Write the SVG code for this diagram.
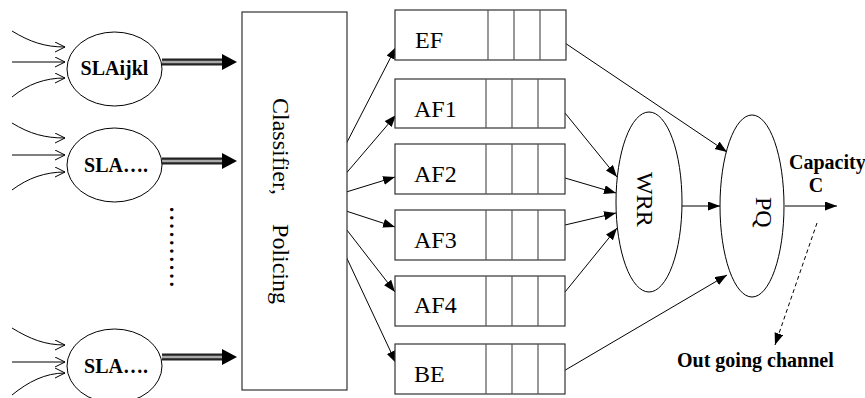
<svg xmlns="http://www.w3.org/2000/svg" width="865" height="398" viewBox="0 0 865 398">
<defs>
<style>
.ln{fill:none;stroke:#000;stroke-width:1}
.in{fill:none;stroke:#000;stroke-width:1;marker-end:url(#open)}
.ar{fill:none;stroke:#000;stroke-width:1;marker-end:url(#fill)}
.box{fill:#fff;stroke:#333;stroke-width:1.2}
.div{stroke:#555;stroke-width:1.2}
.ell{fill:#fff;stroke:#000;stroke-width:1}
.bold{font-family:"Liberation Serif","Times New Roman",serif;font-weight:bold;font-size:20px;fill:#000}
.reg{font-family:"Liberation Serif","Times New Roman",serif;font-size:24px;fill:#000}
.dbo{stroke:#222;stroke-width:7;fill:none}
.dbi{stroke:#aaa;stroke-width:2.5;fill:none}
</style>
<marker id="open" markerWidth="12" markerHeight="12" refX="10" refY="5" orient="auto" markerUnits="userSpaceOnUse">
<path d="M0,0 L10,5 L0,10" fill="none" stroke="#000" stroke-width="1"/>
</marker>
<marker id="fill" markerWidth="14" markerHeight="10" refX="12" refY="4.5" orient="auto" markerUnits="userSpaceOnUse">
<path d="M0,0 L12,4.5 L0,9 Z" fill="#000"/>
</marker>
</defs>
<rect width="865" height="398" fill="#fff"/>

<g id="connectors">
<!-- inputs SLA1 -->
<path class="in" d="M12,31 C30,42 45,47 65,47"/>
<path class="in" d="M12,62 L65,62"/>
<path class="in" d="M12,97 C28,84 45,78 65,78"/>
<!-- inputs SLA2 -->
<path class="in" d="M12,123 C30,134 45,138 65,138"/>
<path class="in" d="M12,155 L65,155"/>
<path class="in" d="M12,190 C28,178 45,172 65,172"/>
<!-- inputs SLA3 -->
<path class="in" d="M12,328 C30,339 45,345 65,345"/>
<path class="in" d="M12,362 L65,362"/>
<path class="in" d="M12,395 C28,382 45,373 65,373"/>
<!-- double arrows -->
<g id="dbl1"><path class="dbo" d="M162,62 H223"/><path class="dbi" d="M162,62 H223"/><path d="M222,54 L237,62 L222,70 Z" fill="#000"/></g>
<g id="dbl2"><path class="dbo" d="M162,161 H223"/><path class="dbi" d="M162,161 H223"/><path d="M222,153 L237,161 L222,169 Z" fill="#000"/></g>
<g id="dbl3"><path class="dbo" d="M162,357 H223"/><path class="dbi" d="M162,357 H223"/><path d="M222,349 L237,357 L222,365 Z" fill="#000"/></g>
<!-- classifier to queues -->
<path class="ar" d="M343,150 L396,47"/>
<path class="ar" d="M343,177 L396,115"/>
<path class="ar" d="M343,193 L395,177"/>
<path class="ar" d="M343,210 L395,227"/>
<path class="ar" d="M343,225 L395,292"/>
<path class="ar" d="M343,250 L396,363"/>
<!-- queues to schedulers -->
<path class="ar" d="M562,41 L727,152"/>
<path class="ar" d="M565,113 L617,177"/>
<path class="ar" d="M565,178 L616,193"/>
<path class="ar" d="M565,225 L616,213"/>
<path class="ar" d="M565,292 L617,228"/>
<path class="ar" d="M562,372 L727,275"/>
<path class="ar" d="M682,206 L720,206"/>
<path class="ar" d="M785,206 L837,206"/>
<path class="ar" d="M817,223 L775,345" stroke-dasharray="4,3"/>
</g>

<g id="sla1"><ellipse class="ell" cx="114.5" cy="69" rx="47.5" ry="37"/><text class="bold" x="114.5" y="75" text-anchor="middle">SLAijkl</text></g>
<g id="sla2"><ellipse class="ell" cx="114.5" cy="165" rx="47.5" ry="37"/><text class="bold" x="116" y="172" text-anchor="middle">SLA….</text></g>
<g id="sla3"><ellipse class="ell" cx="114.5" cy="366" rx="47.5" ry="37"/><text class="bold" x="116" y="373" text-anchor="middle">SLA….</text></g>
<g id="dots"><text class="bold" transform="translate(170,207) rotate(90)" letter-spacing="3.3">..........</text></g>

<g id="classifier"><rect class="box" x="242" y="12" width="105" height="378"/><text class="reg" transform="translate(273,98) rotate(90)">Classifier, <tspan dx="23">Policing</tspan></text></g>

<g id="q-ef"><rect class="box" x="395" y="10" width="171" height="50"/><path class="div" d="M488,10V60M514,10V60M540,10V60"/><text class="reg" x="415" y="48">EF</text></g>
<g id="q-af1"><rect class="box" x="395" y="79" width="170" height="49"/><path class="div" d="M486,79V128M512,79V128M538,79V128"/><text class="reg" x="414" y="117">AF1</text></g>
<g id="q-af2"><rect class="box" x="395" y="144" width="170" height="50"/><path class="div" d="M486,144V194M512,144V194M538,144V194"/><text class="reg" x="414" y="182">AF2</text></g>
<g id="q-af3"><rect class="box" x="395" y="210" width="170" height="50"/><path class="div" d="M486,210V260M512,210V260M538,210V260"/><text class="reg" x="414" y="248">AF3</text></g>
<g id="q-af4"><rect class="box" x="395" y="276" width="170" height="50"/><path class="div" d="M486,276V326M512,276V326M538,276V326"/><text class="reg" x="414" y="313">AF4</text></g>
<g id="q-be"><rect class="box" x="395" y="344" width="170" height="50"/><path class="div" d="M486,344V394M512,344V394M538,344V394"/><text class="reg" x="414" y="382">BE</text></g>

<g id="wrr"><ellipse class="ell" cx="649" cy="202" rx="33" ry="90"/><text class="reg" transform="translate(637,172) rotate(90)">WRR</text></g>
<g id="pq"><ellipse class="ell" cx="752" cy="206" rx="32" ry="91"/><text class="reg" transform="translate(756,197) rotate(90)">PQ</text></g>

<g id="labels">
<text class="bold" x="789" y="169">Capacity</text>
<text class="bold" x="816" y="192" text-anchor="middle">C</text>
<text class="bold" x="677" y="367">Out going channel</text>
</g>
</svg>
